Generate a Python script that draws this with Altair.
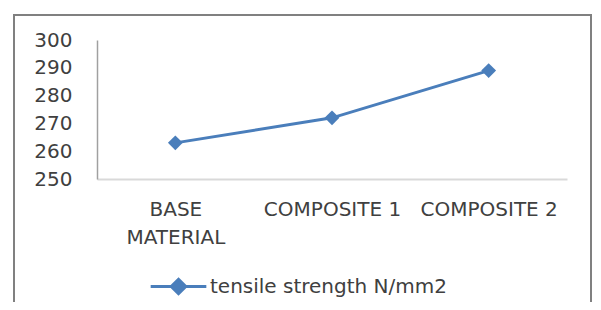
import altair as alt
import pandas as pd

categories = ["BASE MATERIAL", "COMPOSITE 1", "COMPOSITE 2"]
values = [263, 272, 289]
series = "tensile strength N/mm2"
y_ticks = [250, 260, 270, 280, 290, 300]

df = pd.DataFrame({"cat": categories, "val": values, "series": [series] * 3})

FONT = "DejaVu Sans"
TXT = "#404040"
BLUE = "#4A7EBB"

diamond_line = "M-1,0L1,0M0,-0.26L0.26,0L0,0.26L-0.26,0Z"

base = alt.Chart(df).encode(
    x=alt.X("cat:N", sort=categories, title=None,
            scale=alt.Scale(paddingInner=0, paddingOuter=0.5),
            axis=alt.Axis(labelAngle=0, ticks=False, labelPadding=20,
                          labelFontSize=20, labelColor=TXT, labelFont=FONT,
                          labelLineHeight=28, domainColor="#d9d9d9", domainWidth=2,
                          labelExpr="datum.value == 'BASE MATERIAL' ? ['BASE', 'MATERIAL'] : datum.label")),
    y=alt.Y("val:Q", title=None,
            scale=alt.Scale(domain=[250, 300], nice=False, zero=False),
            axis=alt.Axis(values=y_ticks, ticks=False, grid=False, labelPadding=25,
                          labelFontSize=20, labelColor=TXT, labelFont=FONT,
                          domainColor="#a0a0a0", domainWidth=1.5)),
)

line = base.mark_line(strokeWidth=3).encode(
    color=alt.Color("series:N", title=None,
                    scale=alt.Scale(range=[BLUE]),
                    legend=alt.Legend(orient="none", legendX=52, legendY=217,
                                      symbolType=diamond_line, symbolSize=3100,
                                      symbolStrokeWidth=3, symbolFillColor=BLUE,
                                      symbolStrokeColor=BLUE, labelLimit=0,
                                      labelFontSize=20, labelColor=TXT, labelFont=FONT,
                                      labelOffset=2))
)
points = base.mark_point(shape="diamond", filled=True, size=220, opacity=1, color=BLUE)

border = alt.Chart(df).mark_rect(fill=None, stroke="#808080", strokeWidth=2, clip=False).encode(
    x=alt.value(-83), x2=alt.value(494), y=alt.value(-25), y2=alt.value(300)
)

chart = alt.layer(border, line, points).properties(
    width=470, height=139,
    autosize="none",
    padding={"left": 89, "top": 32, "right": 26, "bottom": 123},
).configure_view(stroke=None)

chart.save("out.html", embed_options={"renderer": "svg", "actions": False})
